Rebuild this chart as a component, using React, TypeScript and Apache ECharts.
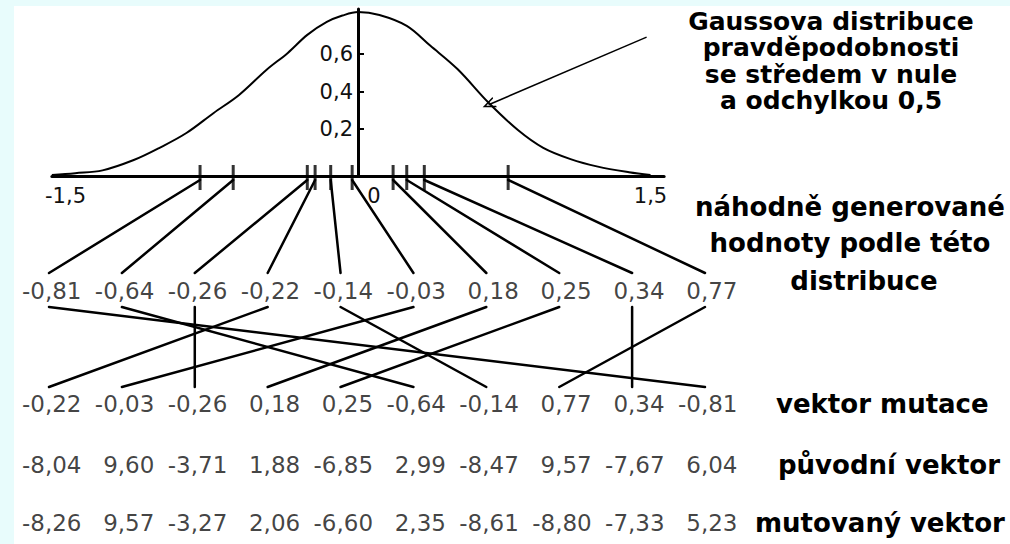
import React, { useEffect, useRef } from "react";
import * as echarts from "echarts";

// ---- data ----
const curveX = [-1.57, -1.45, -1.31, -1.15, -1.02, -0.88, -0.74, -0.61, -0.47, -0.36, -0.26, -0.16, -0.08, 0, 0.11, 0.25, 0.37, 0.51, 0.67, 0.82, 0.95, 1.09, 1.23, 1.39, 1.5];
const curveY = [-0.045, -0.035, -0.02, 0.035, 0.099, 0.179, 0.286, 0.382, 0.515, 0.606, 0.702, 0.771, 0.805, 0.824, 0.808, 0.75, 0.645, 0.52, 0.34, 0.195, 0.1, 0.04, 0.0, -0.03, -0.045];
const sampledValues = [-0.81, -0.64, -0.26, -0.22, -0.14, -0.03, 0.18, 0.25, 0.34, 0.77];
const mutationVector = [-0.22, -0.03, -0.26, 0.18, 0.25, -0.64, -0.14, 0.77, 0.34, -0.81];
const originalVector = [-8.04, 9.6, -3.71, 1.88, -6.85, 2.99, -8.47, 9.57, -7.67, 6.04];
const mutatedVector = [-8.26, 9.57, -3.27, 2.06, -6.6, 2.35, -8.61, -8.8, -7.33, 5.23];
const xTickLabels = [-1.5, 0, 1.5];
const yTickLabels = [0.2, 0.4, 0.6];
const columns = ["1", "2", "3", "4", "5", "6", "7", "8", "9", "10"];
const gaussTitle = ["Gaussova distribuce", "pravděpodobnosti", "se středem v nule", "a odchylkou 0,5"];
const sampledTitle = ["náhodně generované", "hodnoty podle této", "distribuce"];
const rowNames = ["náhodná čísla", "vektor mutace", "původní vektor", "mutovaný vektor"];
const rows = [sampledValues, mutationVector, originalVector, mutatedVector];
const arrowFrom = [1.48, 0.69];
const arrowTo = [0.67, 0.33];

// ---- layout ----
const X_MIN = -1.57, X_MAX = 1.57, Y_MIN = -0.05, Y_MAX = 0.84;
const GRID_LEFT = 51.85, GRID_W = 612.3;
const ROW_CENTERS = [291, 404, 465, 523];
const ANCHOR_DX = 33;
const FONT = "'DejaVu Sans', sans-serif";
const NUM_COLOR = "#111";

const fmt2 = (v: number) => v.toFixed(2).replace(".", ",");
const fmt1 = (v: number) => String(v).replace(".", ",");

export default function App() {
  const ref = useRef<HTMLDivElement>(null);
  useEffect(() => {
    document.body.style.margin = "0";
    const chart = echarts.init(ref.current!, null, { renderer: "svg" });
    const yAxisOffset = -((0 - X_MIN) / (X_MAX - X_MIN)) * GRID_W;
    const grids: any[] = [{ left: GRID_LEFT, top: 9, width: GRID_W, height: 167 }];
    const xAxes: any[] = [
      {
        type: "value", gridIndex: 0, min: X_MIN, max: X_MAX,
        axisLine: { onZero: false, lineStyle: { color: "#000", width: 3 } },
        axisTick: { show: false }, splitLine: { show: false },
        axisLabel: {
          customValues: xTickLabels, margin: 9, fontFamily: FONT, fontSize: 21, color: NUM_COLOR,
          formatter: (v: number) => (v === 0 ? "{z|0}" : fmt1(v)),
          rich: { z: { padding: [0, 0, 0, 32], fontFamily: FONT, fontSize: 21, color: NUM_COLOR } },
        },
      },
    ];
    const yAxes: any[] = [
      {
        type: "value", gridIndex: 0, min: Y_MIN, max: Y_MAX, position: "left", offset: yAxisOffset,
        axisLine: { show: true, onZero: false, lineStyle: { color: "#000", width: 3 } },
        axisTick: { show: true, customValues: yTickLabels, inside: true, length: 6, lineStyle: { color: "#000", width: 2 } },
        splitLine: { show: false },
        axisLabel: { customValues: yTickLabels, margin: 5, fontFamily: FONT, fontSize: 21, color: NUM_COLOR, formatter: (v: number) => fmt1(v) },
      },
    ];
    const series: any[] = [
      {
        type: "line", xAxisIndex: 0, yAxisIndex: 0, smooth: 0.35, showSymbol: false, clip: false,
        data: curveX.map((x, i) => [x, curveY[i]]),
        lineStyle: { color: "#000", width: 2 },
        markLine: {
          silent: true, animation: false,
          symbol: ["none", "path://M0,0 L6,12 L4.2,12 L0,3.6 L-4.2,12 L-6,12 Z"],
          symbolSize: [11, 13],
          label: { show: false },
          lineStyle: { color: "#000", width: 1.5, type: "solid" },
          data: [[{ coord: arrowFrom }, { coord: arrowTo }]],
        },
      },
      {
        type: "scatter", xAxisIndex: 0, yAxisIndex: 0, clip: false, z: 4,
        symbol: "rect", symbolSize: [3, 25], symbolOffset: [0, 1.5],
        itemStyle: { color: "#000" },
        data: sampledValues.map((v) => [v, Y_MIN]),
      },
    ];
    rows.forEach((values, r) => {
      const k = r + 1;
      grids.push({ left: 82, width: 656, top: ROW_CENTERS[r] - 10, height: 20 });
      xAxes.push({ type: "category", gridIndex: k, data: columns, boundaryGap: false, show: false });
      yAxes.push({ type: "category", gridIndex: k, data: [rowNames[r]], show: false });
      series.push({
        type: "scatter", xAxisIndex: k, yAxisIndex: k, symbolSize: 1,
        itemStyle: { color: "rgba(0,0,0,0)" },
        data: values.map((_, i) => [i, 0]),
        label: {
          show: true, position: "left", distance: 0,
          formatter: (p: any) => fmt2(values[p.dataIndex]),
          fontFamily: FONT, fontSize: 23, color: NUM_COLOR,
        },
      });
    });
    chart.setOption({ animation: false, grid: grids, xAxis: xAxes, yAxis: yAxes, series });

    const axisPt = (v: number) => chart.convertToPixel({ xAxisIndex: 0, yAxisIndex: 0 }, [v, Y_MIN]) as number[];
    const cellPt = (r: number, i: number) => chart.convertToPixel({ xAxisIndex: r + 1, yAxisIndex: r + 1 }, [i, 0]) as number[];
    const lineStyle = { stroke: "#000", lineWidth: 2.5, lineCap: "round" };
    const elements: any[] = [];
    sampledValues.forEach((v, i) => {
      const a = axisPt(v);
      const b = cellPt(0, i);
      elements.push({ type: "line", silent: true, shape: { x1: a[0], y1: a[1] + 4, x2: b[0] - ANCHOR_DX, y2: b[1] - 18 }, style: lineStyle });
      const j = mutationVector.indexOf(v);
      const c = cellPt(1, j);
      elements.push({ type: "line", silent: true, shape: { x1: b[0] - ANCHOR_DX, y1: b[1] + 16, x2: c[0] - ANCHOR_DX, y2: c[1] - 17 }, style: lineStyle });
    });
    elements.push({
      type: "text", x: 831, y: 61, silent: true,
      style: { text: gaussTitle.join("\n"), font: `bold 25px ${FONT}`, lineHeight: 26.5, fill: "#000", align: "center", verticalAlign: "middle" },
    });
    const sampY = [207, 243, 281];
    const sampX = [850, 850, 864];
    sampledTitle.forEach((t, i) => {
      elements.push({ type: "text", x: sampX[i], y: sampY[i], silent: true, style: { text: t, font: `bold 26px ${FONT}`, lineHeight: 28, fill: "#000", align: "center", verticalAlign: "middle" } });
    });
    const nameX = [776, 778, 755];
    [1, 2, 3].forEach((r, i) => {
      elements.push({ type: "text", x: nameX[i], y: ROW_CENTERS[r], silent: true, style: { text: rowNames[r], font: `bold 26px ${FONT}`, fill: "#000", align: "left", verticalAlign: "middle" } });
    });
    chart.setOption({ graphic: { elements } });
    return () => chart.dispose();
  }, []);
  return (
    <div style={{ position: "relative", width: 1010, height: 544, background: "#e8fcfc", overflow: "hidden" }}>
      <div style={{ position: "absolute", left: 14, top: 6, right: 0, bottom: 0, background: "#fff" }} />
      <div ref={ref} style={{ position: "absolute", left: 0, top: 0, width: 1010, height: 544 }} />
    </div>
  );
}
